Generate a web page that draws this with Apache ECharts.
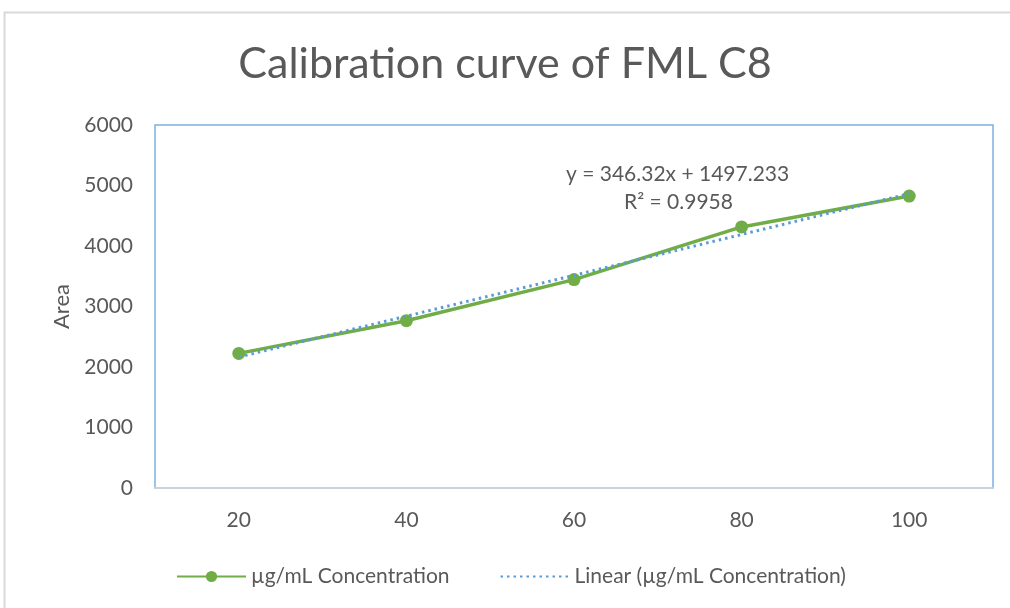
<!DOCTYPE html>
<html>
<head>
<meta charset="utf-8">
<script src="https://cdn.jsdelivr.net/npm/echarts@6/dist/echarts.min.js"></script>
<style>
  html, body { margin: 0; padding: 0; background: #fff; }
  #chart { width: 1010px; height: 608px; }
</style>
</head>
<body>
<div id="chart"></div>
<script>
// values
const concentrations = ['20', '40', '60', '80', '100'];
const areas = [2225, 2765, 3445, 4315, 4825];
const yTicks = { min: 0, max: 6000, step: 1000 };
const equationText = ['y = 346.32x + 1497.233', 'R\u00b2 = 0.9958'];

// least squares fit on the point index (1..n), like the spreadsheet trendline
function linearFit(vals) {
    const n = vals.length;
    let sx = 0, sy = 0, sxy = 0, sxx = 0;
    vals.forEach((v, i) => {
        const x = i + 1;
        sx += x; sy += v; sxy += x * v; sxx += x * x;
    });
    const slope = (n * sxy - sx * sy) / (n * sxx - sx * sx);
    const icpt = (sy - slope * sx) / n;
    return vals.map((v, i) => +(slope * (i + 1) + icpt).toFixed(1));
}
const trend = linearFit(areas);

const font = 'Lato';
const grey = '#595959';
const chart = echarts.init(document.getElementById('chart'));
chart.setOption({
    animation: false,
    textStyle: { fontFamily: font },
    title: {
        text: 'Calibration curve of FML C8',
        left: 'center',
        top: 38,
        textStyle: { fontFamily: font, fontSize: 43, fontWeight: 'normal', color: grey }
    },
    grid: {
        left: 155, right: 17, top: 125, bottom: 120,
        show: true, borderColor: '#7fb0e0', borderWidth: 1.5
    },
    legend: {
        left: 171, top: 561,
        itemWidth: 69, itemHeight: 14, itemGap: 50,
        textStyle: { fontFamily: font, fontSize: 21, color: grey },
        data: [
            { name: '\u00b5g/mL Concentration' },
            { name: 'Linear (\u00b5g/mL Concentration)', itemStyle: { opacity: 0 } }
        ]
    },
    xAxis: {
        type: 'category',
        data: concentrations,
        boundaryGap: true,
        axisLine: { lineStyle: { color: '#d9d9d9', width: 1.5 } },
        axisTick: { show: false },
        axisLabel: { margin: 22, fontSize: 21, color: grey, fontFamily: font }
    },
    yAxis: {
        type: 'value',
        min: yTicks.min, max: yTicks.max, interval: yTicks.step,
        name: 'Area',
        nameLocation: 'middle',
        nameGap: 80,
        nameRotate: 90,
        nameTextStyle: { fontSize: 22, color: grey, fontFamily: font },
        axisLine: { show: false },
        axisTick: { show: false },
        splitLine: { show: false },
        axisLabel: { margin: 22, fontSize: 21, color: grey, fontFamily: font, formatter: v => String(v) }
    },
    graphic: [
        {
            type: 'rect', silent: true, z: -1,
            shape: { x: 4.5, y: 12.5, width: 1100, height: 700 },
            style: { fill: 'none', stroke: '#d9d9d9', lineWidth: 2 }
        },
        {
            type: 'text', left: 566, top: 164,
            style: { text: equationText[0], fontFamily: font, fontSize: 21, fill: grey }
        },
        {
            type: 'text', left: 624, top: 192,
            style: { text: equationText[1], fontFamily: font, fontSize: 21, fill: grey }
        }
    ],
    series: [
        {
            name: 'Linear (\u00b5g/mL Concentration)',
            type: 'line',
            data: trend,
            symbol: 'none',
            z: 3,
            lineStyle: { color: '#5b9bd5', width: 3, type: [2.5, 4] },
            itemStyle: { color: '#5b9bd5' }
        },
        {
            name: '\u00b5g/mL Concentration',
            type: 'line',
            data: areas,
            symbol: 'circle',
            symbolSize: 13,
            z: 2,
            lineStyle: { color: '#70ad47', width: 3.5 },
            itemStyle: { color: '#70ad47' }
        }
    ]
});
</script>
</body>
</html>
